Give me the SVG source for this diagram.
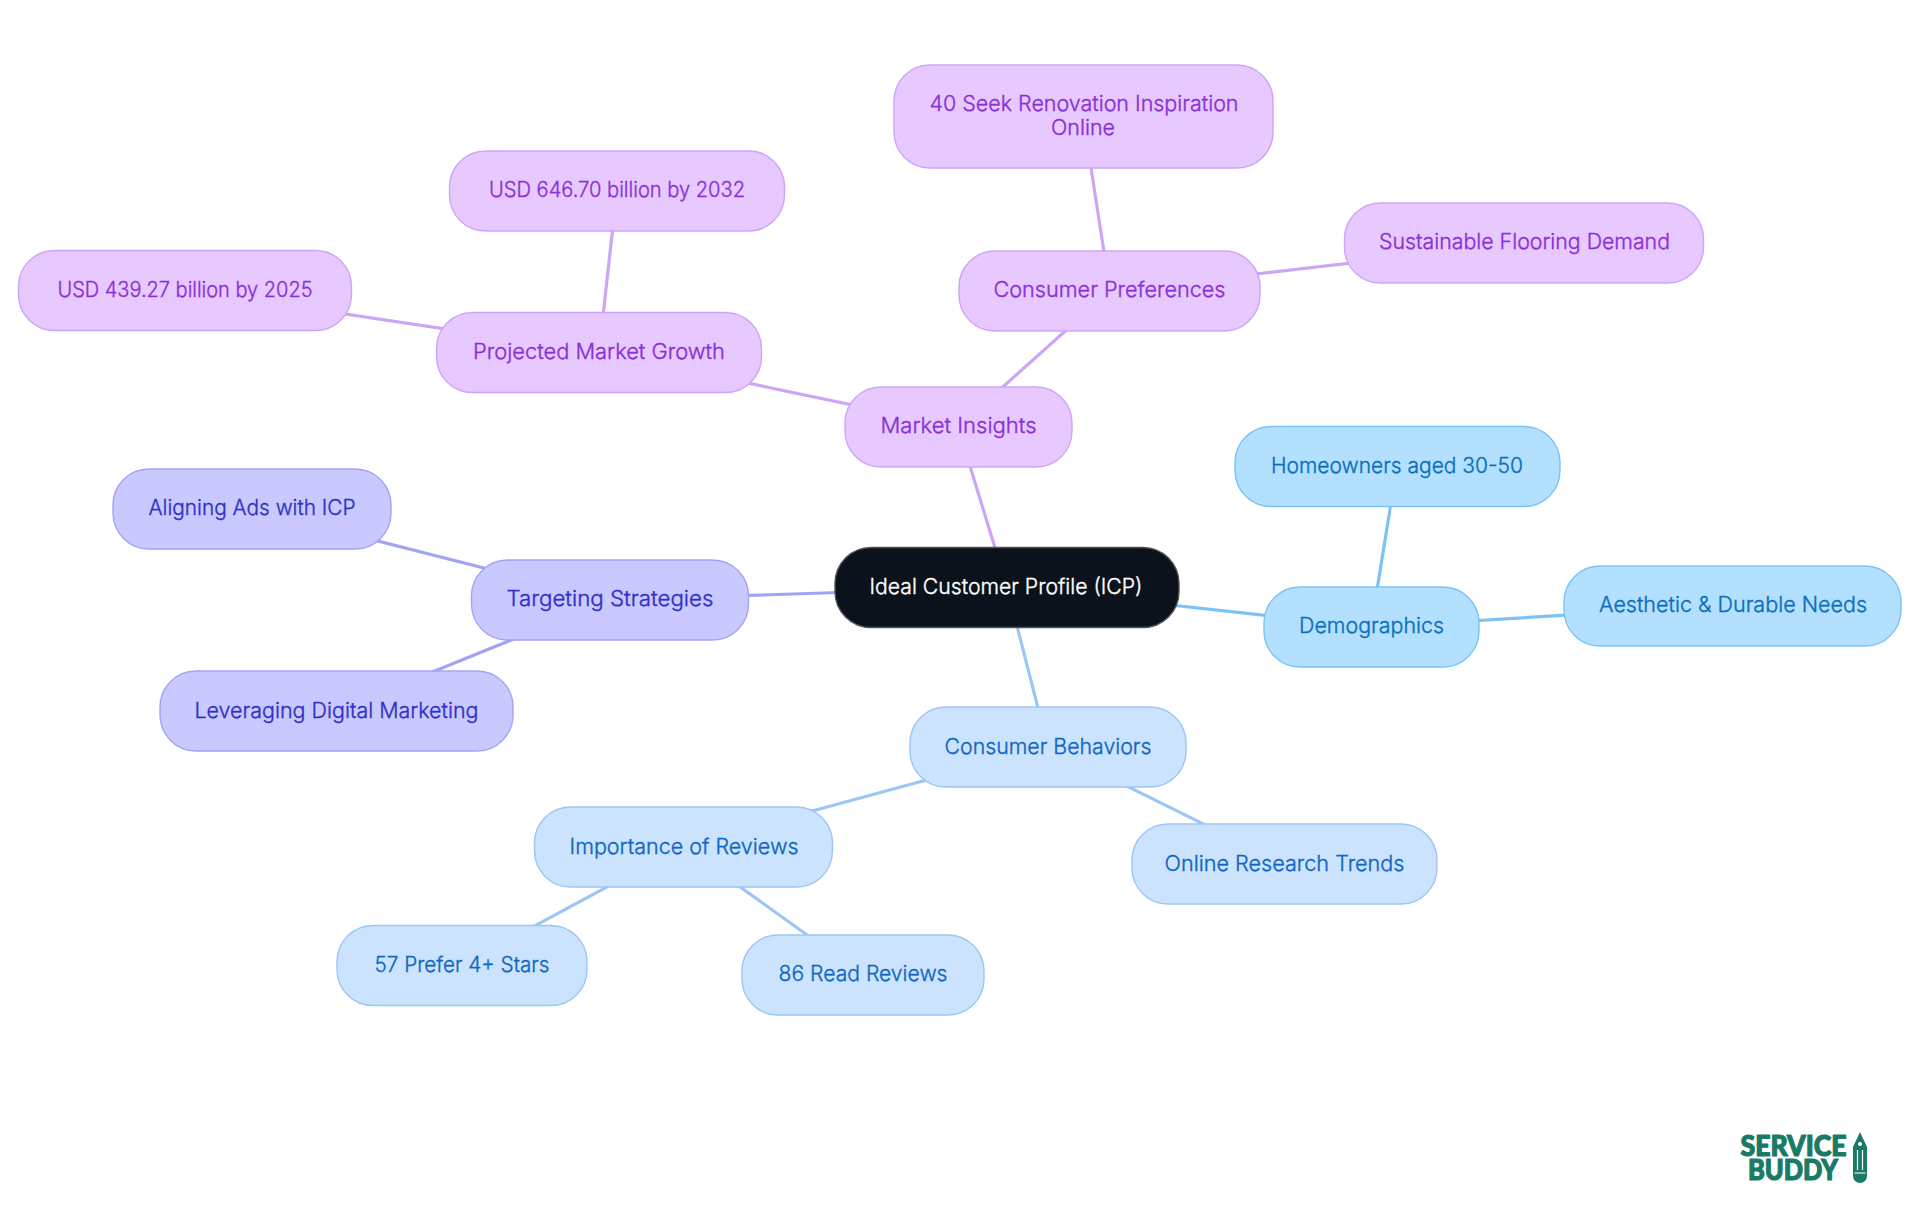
<svg xmlns="http://www.w3.org/2000/svg" width="1920" height="1215" viewBox="0 0 1920 1215">
<style>
text{font-family:"Inter","Noto Sans",sans-serif;font-size:21.5px;font-weight:300;text-anchor:middle;dominant-baseline:central;stroke-width:.35}
rect{stroke-width:1.4}
.root rect{fill:#0c121b;stroke:#4d5259}.root text{fill:#fff;stroke:#fff}
.a rect{fill:#b3e0ff;stroke:#7cc3f5}.a text{fill:#0a6ebd;stroke:#0a6ebd}
.b rect{fill:#cce3fd;stroke:#9cc6f5}.b text{fill:#0f66c4;stroke:#0f66c4}
.d rect{fill:#c9c9ff;stroke:#a3a3f5}.d text{fill:#3030c8;stroke:#3030c8}
.e rect{fill:#e7c9ff;stroke:#cda5f7}.e text{fill:#8a2fd8;stroke:#8a2fd8}
#connectors path{fill:none;stroke-width:3.2}
#logo text{font-family:Lato,sans-serif;font-weight:900;font-size:28px;fill:#1b7a66;stroke:#1b7a66;stroke-width:1.2;stroke-linejoin:round;dominant-baseline:auto}
</style>
<rect width="1920" height="1215" fill="#fff" stroke="none"/>
<g id="connectors">
<path stroke="#cda5f7" d="M1007 587L958 427M958 427L599 352M599 352L185 290M599 352L617 190M958 427L1110 291M1110 291L1083 116M1110 291L1524 243"/>
<path stroke="#7cc3f5" d="M1007 587L1371 627M1371 627L1397 466M1371 627L1733 605"/>
<path stroke="#9cc6f5" d="M1007 587L1048 747M1048 747L683 846M1048 747L1284 864M683 846L462 965M683 846L863 975"/>
<path stroke="#a3a3f5" d="M1007 587L610 600M610 600L252 509M610 600L336 711"/>
</g>
<g id="root" class="root"><rect x="835" y="547.500" width="344" height="80" rx="36"/><text x="1006" y="586" textLength="273" lengthAdjust="spacingAndGlyphs">Ideal Customer Profile (ICP)</text></g>
<g id="demographics" class="a"><rect x="1264" y="587" width="215" height="80" rx="36"/><text x="1371.500" y="624.500" textLength="145" lengthAdjust="spacingAndGlyphs">Demographics</text></g>
<g id="homeowners" class="a"><rect x="1235" y="426.500" width="325" height="80" rx="36"/><text x="1397" y="465" textLength="252" lengthAdjust="spacingAndGlyphs">Homeowners aged 30-50</text></g>
<g id="aesthetic" class="a"><rect x="1564" y="566" width="337" height="80" rx="36"/><text x="1733" y="604" textLength="268" lengthAdjust="spacingAndGlyphs">Aesthetic &amp; Durable Needs</text></g>
<g id="behaviors" class="b"><rect x="910" y="707" width="276" height="80" rx="36"/><text x="1048" y="745.500" textLength="207" lengthAdjust="spacingAndGlyphs">Consumer Behaviors</text></g>
<g id="reviews" class="b"><rect x="534.500" y="807" width="298" height="80" rx="36"/><text x="684" y="845.500" textLength="229" lengthAdjust="spacingAndGlyphs">Importance of Reviews</text></g>
<g id="research" class="b"><rect x="1132" y="824" width="305" height="80" rx="36"/><text x="1284.500" y="862.500" textLength="240" lengthAdjust="spacingAndGlyphs">Online Research Trends</text></g>
<g id="prefer" class="b"><rect x="337" y="925.500" width="250" height="80" rx="36"/><text x="462" y="964" textLength="175" lengthAdjust="spacingAndGlyphs">57 Prefer 4+ Stars</text></g>
<g id="read" class="b"><rect x="742" y="935" width="242" height="80" rx="36"/><text x="863" y="973" textLength="169" lengthAdjust="spacingAndGlyphs">86 Read Reviews</text></g>
<g id="targeting" class="d"><rect x="471.500" y="560" width="277" height="80" rx="36"/><text x="610" y="597.500" textLength="207" lengthAdjust="spacingAndGlyphs">Targeting Strategies</text></g>
<g id="aligning" class="d"><rect x="113" y="469" width="278" height="80" rx="36"/><text x="252" y="507" textLength="207" lengthAdjust="spacingAndGlyphs">Aligning Ads with ICP</text></g>
<g id="leveraging" class="d"><rect x="160" y="671" width="353" height="80" rx="36"/><text x="336.500" y="709.500" textLength="284" lengthAdjust="spacingAndGlyphs">Leveraging Digital Marketing</text></g>
<g id="market" class="e"><rect x="845" y="387" width="227" height="80" rx="36"/><text x="958.500" y="425" textLength="156" lengthAdjust="spacingAndGlyphs">Market Insights</text></g>
<g id="projected" class="e"><rect x="436.500" y="312.500" width="325" height="80" rx="36"/><text x="599" y="351" textLength="252" lengthAdjust="spacingAndGlyphs">Projected Market Growth</text></g>
<g id="usd2025" class="e"><rect x="18.500" y="250.500" width="333" height="80" rx="36"/><text x="185" y="289" textLength="255" lengthAdjust="spacingAndGlyphs">USD 439.27 billion by 2025</text></g>
<g id="usd2032" class="e"><rect x="449.500" y="151" width="335" height="80" rx="36"/><text x="617" y="189" textLength="256" lengthAdjust="spacingAndGlyphs">USD 646.70 billion by 2032</text></g>
<g id="preferences" class="e"><rect x="959" y="251" width="301" height="80" rx="36"/><text x="1109.500" y="289" textLength="232" lengthAdjust="spacingAndGlyphs">Consumer Preferences</text></g>
<g id="renovation" class="e"><rect x="894" y="65" width="379" height="103" rx="36"/><text x="1084" y="103" textLength="309" lengthAdjust="spacingAndGlyphs">40 Seek Renovation Inspiration</text><text x="1083" y="127" textLength="64" lengthAdjust="spacingAndGlyphs">Online</text></g>
<g id="sustainable" class="e"><rect x="1344.500" y="203" width="359" height="80" rx="36"/><text x="1524.500" y="240.500" textLength="291" lengthAdjust="spacingAndGlyphs">Sustainable Flooring Demand</text></g>
<g id="logo">
<text x="1793.500" y="1155.500" textLength="106" lengthAdjust="spacingAndGlyphs">SERVICE</text>
<text x="1793" y="1180" textLength="90" lengthAdjust="spacingAndGlyphs">BUDDY</text>
<path d="M1860 1132L1867 1147V1176a7 7 0 0 1-14 0V1147Z" fill="#1b7a66"/>
<path d="M1857.500 1150V1170M1862.500 1150V1170M1854.500 1173H1865.500" fill="none" stroke="#fff" stroke-width="1.200"/>
<circle cx="1860" cy="1144" r="2" fill="#fff"/>
</g>
</svg>
